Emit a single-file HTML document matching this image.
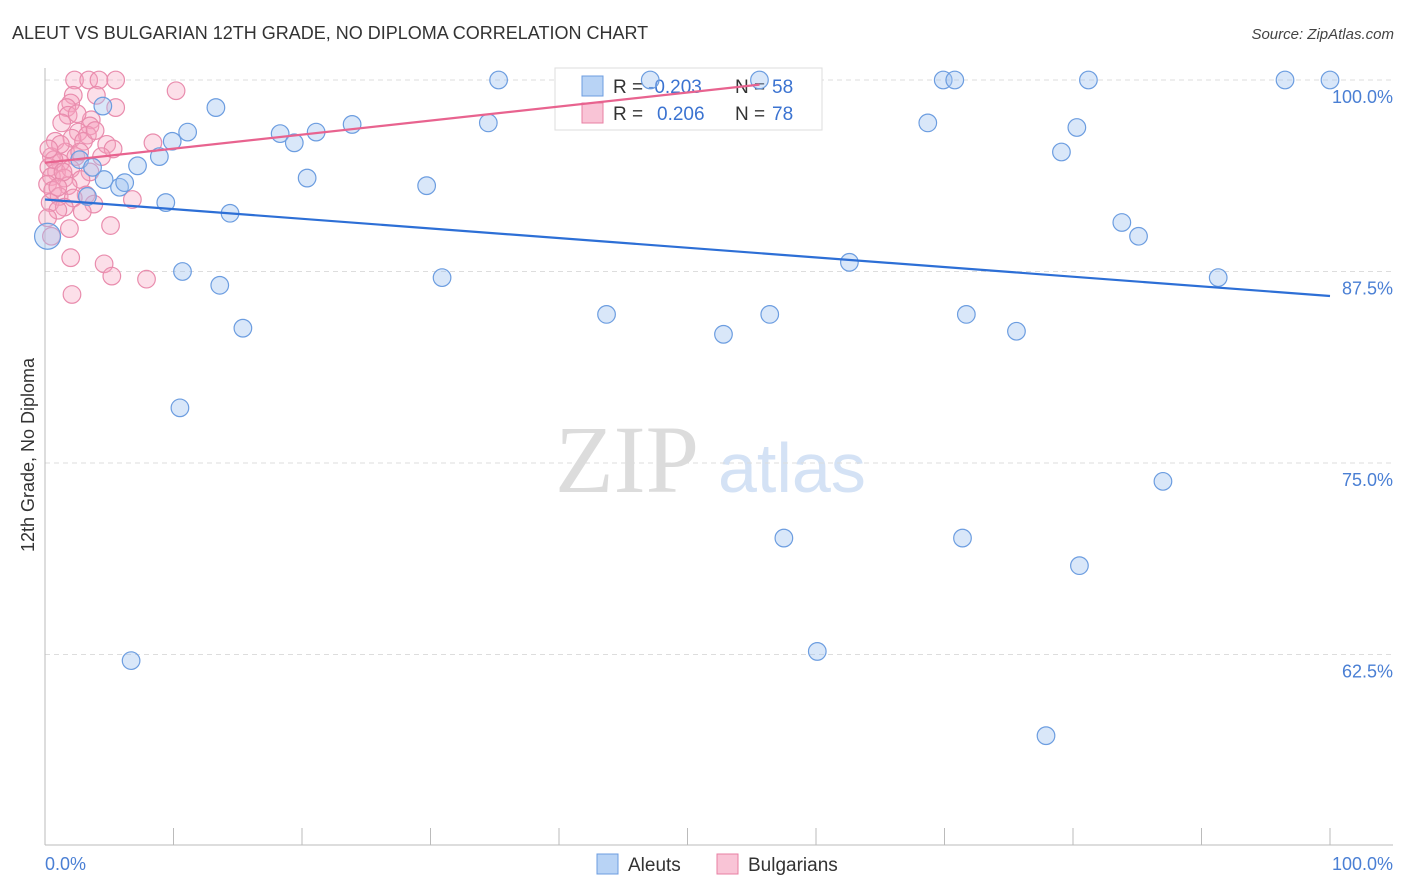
<!DOCTYPE html>
<html><head><meta charset="utf-8">
<style>
body{margin:0;background:#fff;font-family:"Liberation Sans",sans-serif;}
svg{display:block}
</style></head>
<body>
<svg id="chart" width="1406" height="892" xmlns="http://www.w3.org/2000/svg">
<text x="12" y="39" font-size="18" fill="#333">ALEUT VS BULGARIAN 12TH GRADE, NO DIPLOMA CORRELATION CHART</text>
<text x="1394" y="39" font-size="15" fill="#444" text-anchor="end" font-style="italic">Source: ZipAtlas.com</text>
<g>
<text x="555" y="492" font-family="Liberation Serif,serif" font-size="96" fill="#dcdcdc">ZIP</text>
<text x="718" y="492" font-size="70" fill="#d4e2f5">atlas</text>
</g>
<g id="grid"></g>
<g id="axes"></g>
<g>
<rect x="555" y="68" width="267" height="62" fill="#fff" stroke="#ddd"/>
<rect x="582" y="76" width="21" height="20" fill="#b8d3f5" stroke="#6c9de0"/>
<rect x="582" y="103" width="21" height="20" fill="#f9c4d6" stroke="#e87fa3"/>
<text x="613" y="93" font-size="19" fill="#333">R = </text><text x="648" y="93" font-size="19" fill="#3b73d1">-0.203</text>
<text x="735" y="93" font-size="19" fill="#333">N = </text><text x="772" y="93" font-size="19" fill="#3b73d1">58</text>
<text x="613" y="120" font-size="19" fill="#333">R = </text><text x="657" y="120" font-size="19" fill="#3b73d1">0.206</text>
<text x="735" y="120" font-size="19" fill="#333">N = </text><text x="772" y="120" font-size="19" fill="#3b73d1">78</text>
</g>
<g id="pts"></g>
<g id="trends"></g>
<text transform="translate(34,455) rotate(-90)" font-size="18" fill="#333" text-anchor="middle">12th Grade, No Diploma</text>
<text x="45" y="870" font-size="18" fill="#4a7fd4">0.0%</text>
<text x="1393" y="870" font-size="18" fill="#4a7fd4" text-anchor="end">100.0%</text>
<g>
<rect x="597" y="854" width="21" height="20" fill="#b8d3f5" stroke="#6c9de0"/>
<text x="628" y="871" font-size="19" fill="#333">Aleuts</text></g>
<g>
<rect x="717" y="854" width="21" height="20" fill="#f9c4d6" stroke="#e87fa3"/>
<text x="748" y="871" font-size="19" fill="#333">Bulgarians</text></g>
</svg>
<script>
const yTicks=[100,87.5,75,62.5];
const yTickLabels=["100.0%","87.5%","75.0%","62.5%"];
const xTicks=[0,10,20,30,40,50,60,70,80,90,100];
const aleutX=[4.5,9.9,11.1,8.9,7.2,5.8,6.2,4.6,3.3,2.7,3.7,9.4,14.4,13.3,18.3,19.4,21.1,23.9,20.4,29.7,35.3,34.5,10.7,13.6,15.4,10.5,6.7,30.9,43.7,52.8,56.4,62.6,57.5,60.1,68.7,69.9,70.8,81.2,80.3,79.1,83.8,85.1,91.3,71.7,75.6,71.4,87.0,80.5,77.9,96.5,100,47.1,55.6,0.2];
const aleutY=[98.3,96.0,96.6,95.0,94.4,93.0,93.3,93.5,92.4,94.8,94.3,92.0,91.3,98.2,96.5,95.9,96.6,97.1,93.6,93.1,100,97.2,87.5,86.6,83.8,78.6,62.1,87.1,84.7,83.4,84.7,88.1,70.1,62.7,97.2,100,100,100,96.9,95.3,90.7,89.8,87.1,84.7,83.6,70.1,73.8,68.3,57.2,100,100,100,100,89.8];
const bulgX=[2.3,3.4,4.2,5.5,10.2,2.2,4,2,1.7,5.5,1.8,3.6,1.3,3.5,2.6,3.3,0.8,2.1,3,4.8,8.4,5.3,1.6,0.5,2.4,4.4,1.2,0.3,0.9,2,3.5,0.5,1.5,2.8,0.2,1.8,0.6,3.2,1.1,2.2,6.8,0.4,1.5,3.8,1.0,2.9,0.2,1.9,5.1,0.5,2,4.6,5.2,7.9,2.1,1.2,2.7,0.7,1.4,3.9,1,0.3,2.5];
const bulgY=[100,100,100,100,99.3,99,99,98.5,98.2,98.2,97.7,97.4,97.2,97,96.6,96.4,96,96.2,96,95.8,95.9,95.5,95.3,95,95,95,94.6,94.3,94,94.2,94,93.7,93.6,93.5,93.2,93.1,92.8,92.5,92.4,92.3,92.2,92,91.7,91.9,91.5,91.4,91,90.3,90.5,89.8,88.4,88.0,87.2,87,86,95.8,95.3,94.8,94,96.7,93,95.5,97.8];
const aleutTrend=[0,92.2,100,85.9];
const bulgTrend=[0,94.6,55.6,99.7];
const NS="http://www.w3.org/2000/svg";
const X=v=>45+v*12.85, Y=v=>80+(100-v)*15.32;
function mk(t,a,p){const e=document.createElementNS(NS,t);for(const k in a)e.setAttribute(k,a[k]);p.appendChild(e);return e;}
const grid=document.getElementById('grid'),axes=document.getElementById('axes'),pts=document.getElementById('pts'),tr=document.getElementById('trends');
yTicks.forEach((v,i)=>{
 const l=mk('line',{x1:45,x2:1393,y1:Y(v),y2:Y(v),stroke:'#ddd','stroke-dasharray':'5,4'},grid);
 
 
 const t=mk('text',{x:1393,y:Y(v)+23,'font-size':18,fill:'#4a7fd4','text-anchor':'end'},grid);
 t.textContent=yTickLabels[i];
 
 
});
let a=mk('line',{x1:45,x2:45,y1:68,y2:845,stroke:'#bbb'},axes);


a=mk('line',{x1:45,x2:1393,y1:845,y2:845,stroke:'#bbb'},axes);


xTicks.forEach(v=>{const t=mk('line',{x1:X(v),x2:X(v),y1:828,y2:845,stroke:'#bbb'},axes);
 
 });
bulgX.forEach((x,i)=>{const c=mk('circle',{cx:X(x),cy:Y(bulgY[i]),r:8.8,fill:'rgba(246,164,192,0.35)',stroke:'#e98cad','stroke-width':1.2},pts);
 
 });
aleutX.forEach((x,i)=>{const c=mk('circle',{cx:X(x),cy:Y(aleutY[i]),r:i==aleutX.length-1?13:8.8,fill:'rgba(160,196,240,0.4)',stroke:'#6c9de0','stroke-width':1.2},pts);
 
 });
let l=mk('line',{x1:X(aleutTrend[0]),y1:Y(aleutTrend[1]),x2:X(aleutTrend[2]),y2:Y(aleutTrend[3]),stroke:'#2d6fd6','stroke-width':2.2},tr);


l=mk('line',{x1:X(bulgTrend[0]),y1:Y(bulgTrend[1]),x2:X(bulgTrend[2]),y2:Y(bulgTrend[3]),stroke:'#e8638f','stroke-width':2.2},tr);


</script>
</body></html>
